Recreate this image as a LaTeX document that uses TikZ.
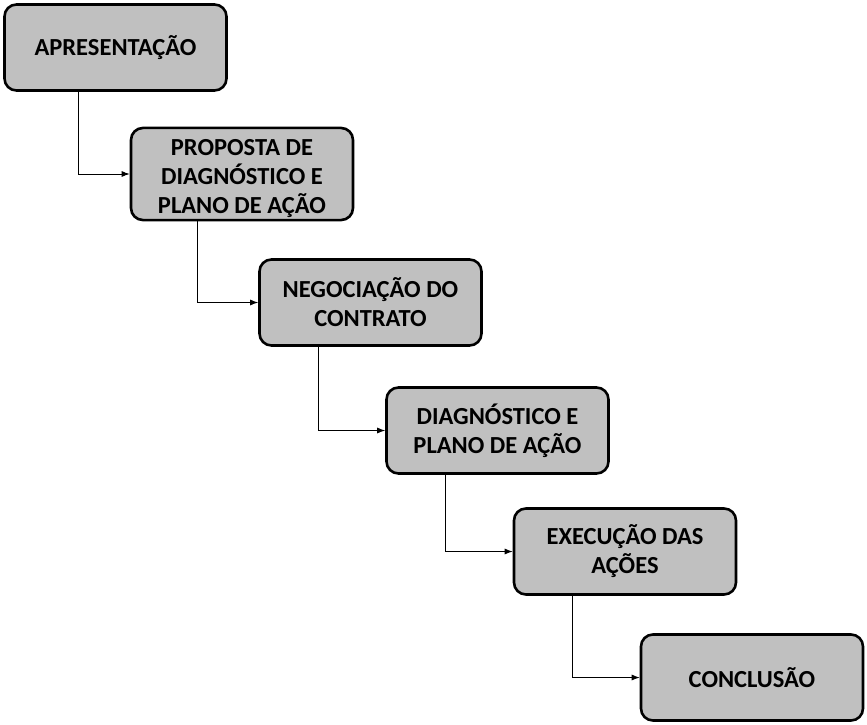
\documentclass[tikz,border=0pt]{standalone}
\usepackage{fontspec}
\setmainfont{Carlito}
\usepackage{tikz}
\usetikzlibrary{arrows.meta,positioning,calc}
\usepackage{xcolor}
\definecolor{boxgray}{HTML}{C0C0C0}

\begin{document}
\begin{tikzpicture}[x=1pt, y=-1pt,
    box/.style={draw, line width=2.6pt, rounded corners=12pt, fill=boxgray,
                minimum width=222pt, minimum height=86pt, inner sep=2pt,
                font=\fontsize{24.5}{29}\selectfont\bfseries, align=center},
    arr/.style={-{Latex[length=8pt,width=6pt]}, line width=0.9pt}
]
\useasboundingbox (0,0) rectangle (867,725);
\node[box] (apr) at (115.5,47.5) {APRESENTAÇÃO};
\node[box] (prop) at (242,174) {\rule{0pt}{26pt}PROPOSTA DE\\DIAGNÓSTICO E\\PLANO DE AÇÃO};
\node[box] (neg) at (370.5,302.5) {NEGOCIAÇÃO DO\\CONTRATO};
\node[box] (diag) at (497.5,430.5) {DIAGNÓSTICO E\\PLANO DE AÇÃO};
\node[box] (exec) at (625,551.5) {EXECUÇÃO DAS\\AÇÕES};
\node[box] (conc) at (752,677.5) {CONCLUSÃO};

\draw[arr] ([xshift=-37.5pt]apr.south) |- (prop);
\draw[arr] ([xshift=-45pt]prop.south) |- (neg);
\draw[arr] ([xshift=-52.5pt]neg.south) |- (diag);
\draw[arr] ([xshift=-52.5pt]diag.south) |- (exec);
\draw[arr] ([xshift=-53pt]exec.south) |- (conc);
\end{tikzpicture}
\end{document}
